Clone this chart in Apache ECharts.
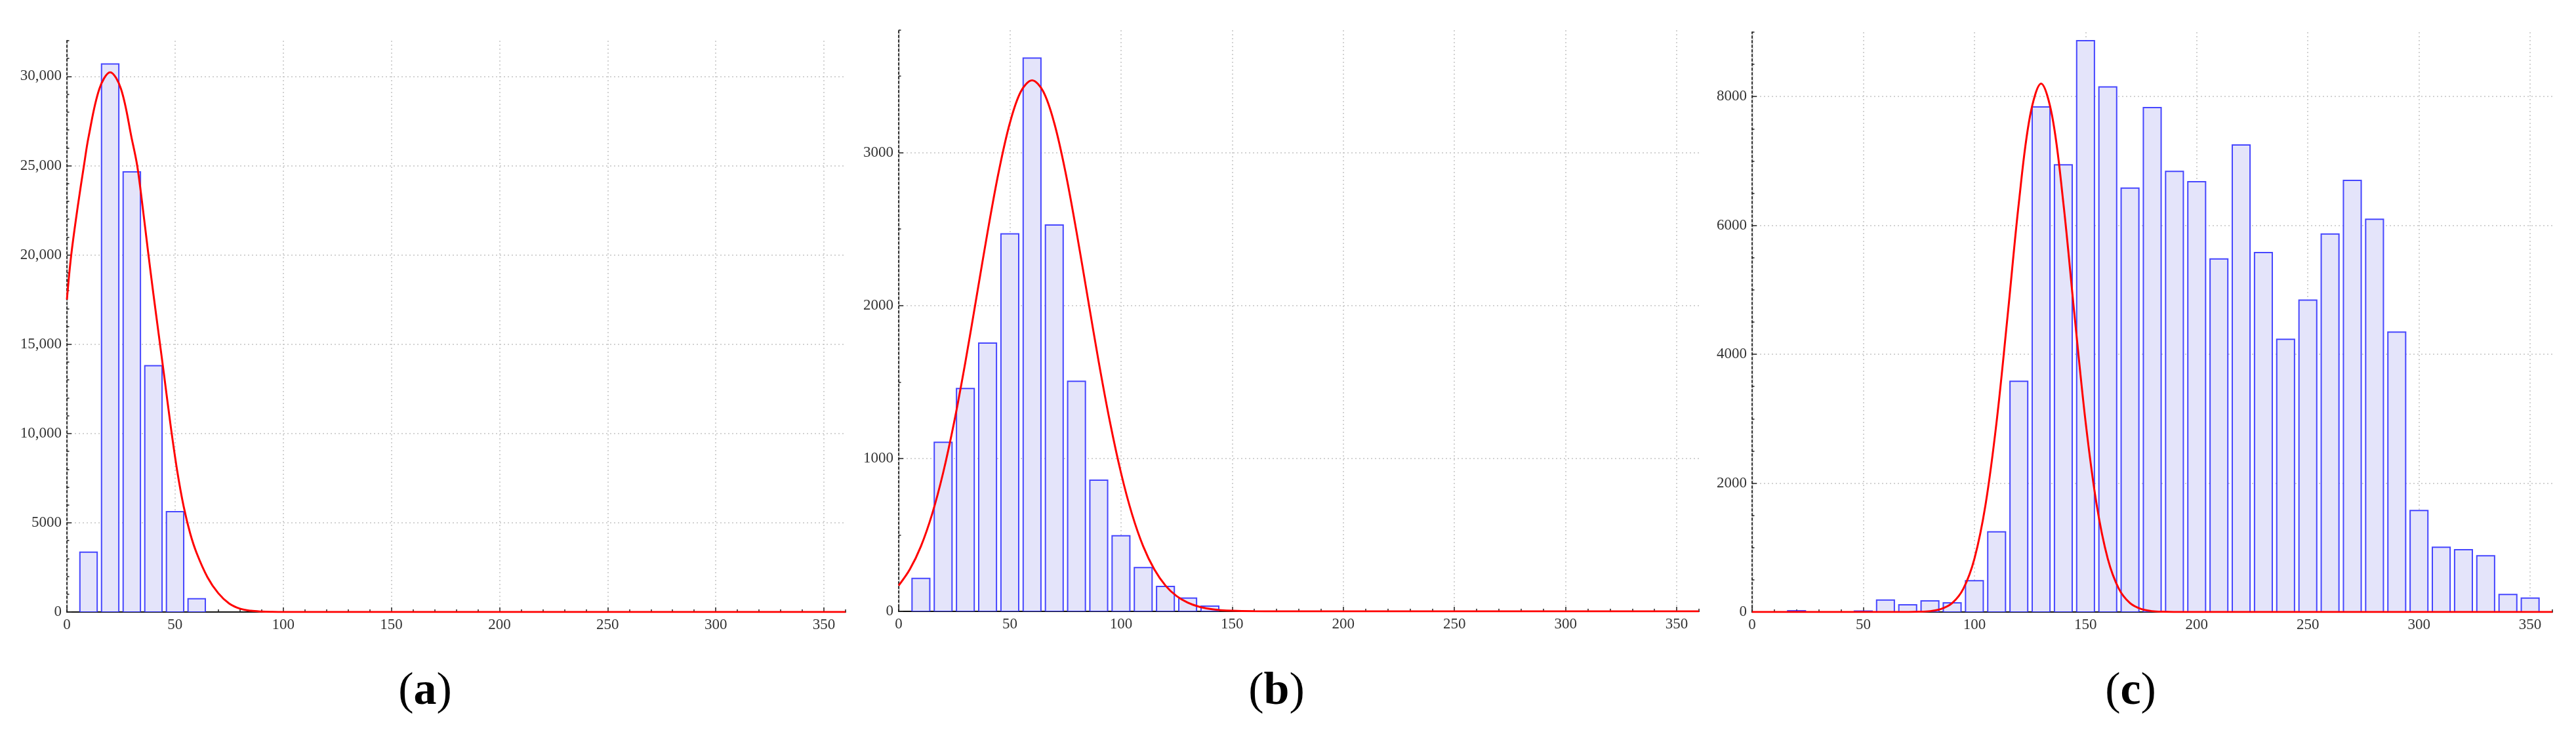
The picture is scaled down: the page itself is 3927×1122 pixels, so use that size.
<!DOCTYPE html>
<html>
<head>
<meta charset="utf-8">
<script src="https://cdn.jsdelivr.net/npm/echarts@6/dist/echarts.min.js"></script>
<style>html,body{margin:0;padding:0;background:#fff}#c{width:3927px;height:1122px}</style>
</head>
<body>
<div id="c"></div>
<script>
// ---- Panel (a) ----
const binsA = [10, 20, 30, 40, 50, 60];
const countsA = [3350, 30700, 24650, 13800, 5620, 740];
const fitXA = [0, 2, 5, 8, 10, 15, 20, 25, 30, 32.5, 35, 37.5, 40, 42.5, 45, 48, 51, 54, 57, 60, 65, 70, 75, 80, 85, 90, 95, 100, 360];
const fitYA = [17500, 20000, 22700, 25100, 26600, 29300, 30230, 29300, 26500, 25000, 22700, 20200, 17800, 15500, 13200, 10400, 7900, 5900, 4400, 3300, 1950, 1050, 480, 190, 70, 25, 8, 0, 0];

// ---- Panel (b) ----
const binsB = [10, 20, 30, 40, 50, 60, 70, 80, 90, 100, 110, 120, 130, 140];
const countsB = [215, 1105, 1457, 1754, 2468, 3618, 2526, 1504, 858, 494, 286, 163, 87, 34];
const fitXB = [0, 5, 10, 15, 20, 25, 30, 35, 40, 45, 50, 55, 60, 65, 70, 75, 80, 85, 90, 95, 100, 105, 110, 115, 120, 125, 130, 135, 140, 145, 150, 160, 170, 360];
const fitYB = [169, 274, 425, 634, 906, 1241, 1630, 2054, 2481, 2874, 3192, 3400, 3472, 3400, 3192, 2874, 2481, 2054, 1630, 1241, 906, 634, 425, 274, 169, 100, 57, 31, 16, 8, 4, 1, 0, 0];

// ---- Panel (c) ----
const binsC = [20, 50, 60, 70, 80, 90, 100, 110, 120, 130, 140, 150, 160, 170, 180, 190, 200, 210, 220, 230, 240, 250, 260, 270, 280, 290, 300, 310, 320, 330, 340, 350];
const countsC = [20, 15, 187, 112, 174, 143, 486, 1245, 3580, 7840, 6940, 8867, 8150, 6580, 7830, 6840, 6680, 5480, 7250, 5580, 4234, 4840, 5866, 6700, 6096, 4346, 1575, 1005, 966, 874, 272, 217];
const fitXC = [0, 60, 70, 75, 80, 85, 90, 95, 100, 105, 110, 115, 120, 125, 130, 135, 140, 145, 150, 155, 160, 165, 170, 175, 180, 185, 190, 200, 360];
const fitYC = [0, 0, 1, 4, 14, 47, 138, 360, 826, 1665, 2956, 4619, 6353, 7693, 8200, 7693, 6353, 4619, 2956, 1665, 826, 360, 138, 47, 14, 4, 1, 0, 0];

// axis ranges / tick steps
const xRange = [0, 360];
const xMajorStep = 50, xMinorStep = 10;
const yMaxes = [32000, 3800, 9000];
const yMajorSteps = [5000, 1000, 2000];
const yMinorSteps = [1000, 500, 500];
const captions = ['a', 'b', 'c'];

const FONT = '"Liberation Serif", "DejaVu Serif", serif';
const BAR_HALF = 4;
const grids = [
  {left: 102, top: 62, width: 1187, height: 871},
  {left: 1370, top: 46, width: 1220, height: 886},
  {left: 2671, top: 49, width: 1220, height: 884}
];
const captionPos = [[648, 1055], [1946, 1055], [3248, 1055]];

function fmtA(v) {
  if (v >= 10000) return String(v).replace(/\B(?=(\d{3})+(?!\d))/g, ',');
  return String(v);
}

const xAxis = [], yAxis = [], series = [], graphic = [];
const panels = [
  [binsA, countsA, fitXA, fitYA],
  [binsB, countsB, fitXB, fitYB],
  [binsC, countsC, fitXC, fitYC]
];

panels.forEach((p, i) => {
  xAxis.push({
    type: 'value', gridIndex: i, position: 'bottom', min: xRange[0], max: xRange[1], interval: xMajorStep,
    axisLine: {show: false, onZero: false},
    axisTick: {show: true, inside: true, length: 7, lineStyle: {color: '#222', width: 1.5}},
    axisLabel: {show: true, showMaxLabel: false, margin: 8, fontFamily: FONT, fontSize: 23, color: '#333'},
    splitLine: {show: true, showMinLine: false, showMaxLine: false, lineStyle: {type: [2, 4], color: '#c4c4c4', width: 1.5}}
  });
  xAxis.push({
    type: 'value', gridIndex: i, position: 'bottom', min: xRange[0], max: xRange[1], interval: xMinorStep,
    axisLine: {show: true, onZero: false, lineStyle: {color: '#111', width: 2}},
    axisTick: {show: true, inside: true, length: 4, lineStyle: {color: '#222', width: 1.5}},
    axisLabel: {show: false},
    splitLine: {show: false}
  });
  yAxis.push({
    type: 'value', gridIndex: i, position: 'left', min: 0, max: yMaxes[i], interval: yMajorSteps[i],
    axisLine: {show: true, onZero: false, lineStyle: {color: '#d6d6d6', width: 2.5}},
    axisTick: {show: true, inside: true, length: 7, lineStyle: {color: '#222', width: 1.5}},
    axisLabel: {show: true, showMaxLabel: false, margin: 8, fontFamily: FONT, fontSize: 23, color: '#333',
      formatter: i === 0 ? fmtA : (v) => String(v)},
    splitLine: {show: true, showMinLine: false, showMaxLine: false, lineStyle: {type: [2, 4], color: '#c4c4c4', width: 1.5}}
  });
  yAxis.push({
    type: 'value', gridIndex: i, position: 'left', min: 0, max: yMaxes[i], interval: yMinorSteps[i],
    axisLine: {show: true, onZero: false, lineStyle: {color: '#333', width: 2, type: [3, 4]}},
    axisTick: {show: true, inside: true, length: 3.5, lineStyle: {color: '#222', width: 1.5}},
    axisLabel: {show: false},
    splitLine: {show: false}
  });

  const bins = p[0], counts = p[1], fx = p[2], fy = p[3];
  series.push({
    type: 'custom', xAxisIndex: 2 * i, yAxisIndex: 2 * i, z: 3, clip: true,
    data: bins.map((b, k) => [b, counts[k]]),
    encode: {x: 0, y: 1},
    renderItem: function (params, api) {
      const x = api.value(0), y = api.value(1);
      const p0 = api.coord([x - BAR_HALF, y]);
      const p1 = api.coord([x + BAR_HALF, 0]);
      return {
        type: 'rect',
        shape: {x: p0[0], y: p0[1], width: p1[0] - p0[0], height: p1[1] - p0[1]},
        style: {fill: '#e4e4fa', stroke: 'rgba(40,40,255,0.85)', lineWidth: 2}
      };
    }
  });
  series.push({
    type: 'line', xAxisIndex: 2 * i, yAxisIndex: 2 * i, z: 5,
    data: fx.map((x, k) => [x, fy[k]]),
    showSymbol: false, smooth: 0.35, clip: true,
    lineStyle: {color: '#ff0000', width: 3}
  });

  graphic.push({
    type: 'text', x: captionPos[i][0], y: captionPos[i][1],
    style: {
      text: '{p|(}{b|' + captions[i] + '}{p|)}',
      align: 'center', verticalAlign: 'middle', textAlign: 'center', textVerticalAlign: 'middle',
      rich: {
        p: {fontFamily: FONT, fontSize: 70, fontWeight: 'normal', fill: '#000'},
        b: {fontFamily: FONT, fontSize: 70, fontWeight: 'bold', fill: '#000'}
      }
    }
  });
});

const chart = echarts.init(document.getElementById('c'), null, {renderer: 'canvas'});
chart.setOption({
  animation: false,
  backgroundColor: '#ffffff',
  grid: grids.map(g => Object.assign({containLabel: false}, g)),
  xAxis: xAxis,
  yAxis: yAxis,
  series: series,
  graphic: graphic
});
</script>
</body>
</html>
